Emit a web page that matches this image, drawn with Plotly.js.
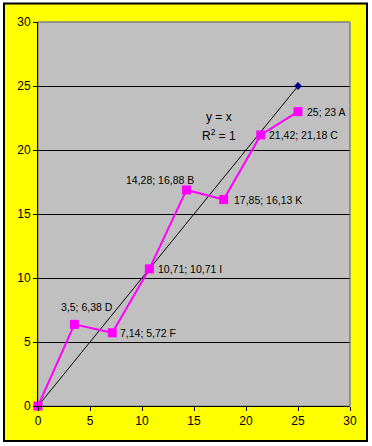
<!DOCTYPE html>
<html>
<head>
<meta charset="utf-8">
<script src="https://cdn.plot.ly/plotly-3.0.1.min.js"></script>
<style>html,body{margin:0;padding:0;background:#fff;}#chart{width:372px;height:446px;}</style>
</head>
<body>
<div id="chart"></div>
<script>
// Data
const pointsX = [0, 3.5, 7.14, 10.71, 14.28, 17.85, 21.42, 25];
const pointsY = [0, 6.38, 5.72, 10.71, 16.88, 16.13, 21.18, 23];
const pointLabels = ["", "3,5; 6,38 D", "7,14; 5,72 F", "10,71; 10,71 I", "14,28; 16,88 B", "17,85; 16,13 K", "21,42; 21,18 C", "25; 23 A"];
const trendX = [0, 25];
const trendY = [0, 25];
const equationText = ["y = x", "R<sup>2</sup> = 1"];
const tickVals = [0, 5, 10, 15, 20, 25, 30];

// Label placement (styling, not data)
const labelPlacement = [
  null,
  {xanchor: "center", xshift: 13, yshift: 17},
  {xanchor: "left", xshift: 6, yshift: 0},
  {xanchor: "left", xshift: 7, yshift: 0},
  {xanchor: "center", xshift: -27, yshift: 10},
  {xanchor: "left", xshift: 8, yshift: 0},
  {xanchor: "left", xshift: 6, yshift: 0},
  {xanchor: "left", xshift: 7, yshift: 0}
];

const font = "Liberation Sans, Arial, sans-serif";

const traces = [
  {
    x: trendX, y: trendY, mode: "lines+markers", type: "scatter",
    line: {color: "#000000", width: 1},
    marker: {color: "#000080", size: 6, symbol: "diamond"},
    cliponaxis: false,
    hoverinfo: "skip"
  },
  {
    x: pointsX, y: pointsY, mode: "lines+markers", type: "scatter",
    line: {color: "#FF00FF", width: 2},
    marker: {color: "#FF00FF", size: 9, symbol: "square"},
    cliponaxis: false,
    hoverinfo: "skip"
  }
];

const annotations = [];
pointLabels.forEach((t, i) => {
  if (!t) return;
  const p = labelPlacement[i];
  annotations.push({
    x: pointsX[i], y: pointsY[i], xref: "x", yref: "y",
    text: t, showarrow: false, xanchor: p.xanchor, yanchor: "middle",
    xshift: p.xshift, yshift: p.yshift,
    font: {family: font, size: 10.5, color: "#000"}
  });
});
annotations.push({x: 17.4, y: 22.58, xref: "x", yref: "y", text: equationText[0], showarrow: false,
  xanchor: "center", yanchor: "middle", font: {family: font, size: 12, color: "#000"}});
annotations.push({x: 17.4, y: 21.2, xref: "x", yref: "y", text: equationText[1], showarrow: false,
  xanchor: "center", yanchor: "middle", font: {family: font, size: 12, color: "#000"}});

const L = 38, R = 22, T = 22, B = 40, W = 372, H = 446;
const pw = W - L - R, ph = H - T - B;
const px = v => (v - L) / pw;
const py = v => (H - B - v) / ph;

const layout = {
  width: W, height: H,
  margin: {l: L, r: R, t: T, b: B, pad: 0},
  paper_bgcolor: "#ffffff",
  plot_bgcolor: "rgba(0,0,0,0)",
  showlegend: false,
  font: {family: font, size: 12, color: "#000"},
  xaxis: {
    range: [0, 30], tickvals: tickVals, ticktext: tickVals.map(String),
    showgrid: false, zeroline: false, showline: true, linecolor: "#000", linewidth: 1,
    ticks: "outside", ticklen: 4, tickcolor: "#000", tickfont: {family: font, size: 12, color: "#000"},
    fixedrange: true
  },
  yaxis: {
    range: [0, 30], tickvals: tickVals, ticktext: tickVals.map(String),
    showgrid: true, gridcolor: "#000", gridwidth: 1, zeroline: false,
    showline: true, linecolor: "#000", linewidth: 1,
    ticks: "outside", ticklen: 4, tickcolor: "#000", tickfont: {family: font, size: 12, color: "#000"},
    fixedrange: true
  },
  shapes: [
    {type: "rect", xref: "paper", yref: "paper", layer: "below",
     x0: px(4), x1: px(367), y0: py(441), y1: py(3.5),
     fillcolor: "#FFFF00", line: {color: "#000", width: 2}},
    {type: "rect", xref: "paper", yref: "paper", layer: "below",
     x0: 0, x1: 1, y0: 0, y1: 1,
     fillcolor: "#C0C0C0", line: {color: "#808080", width: 1}},
    {type: "line", xref: "paper", yref: "paper", layer: "above",
     x0: 0, x1: 1, y0: 1, y1: 1, line: {color: "#808080", width: 1}},
    {type: "line", xref: "paper", yref: "paper", layer: "above",
     x0: 1, x1: 1, y0: 0, y1: 1, line: {color: "#808080", width: 1}}
  ],
  annotations: annotations
};

Plotly.newPlot("chart", traces, layout, {staticPlot: true, displayModeBar: false});
</script>
</body>
</html>
